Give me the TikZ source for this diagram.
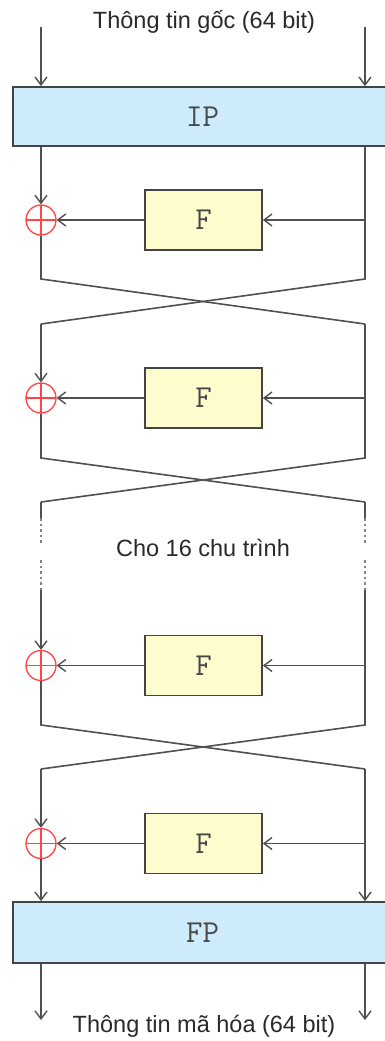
\documentclass[tikz,border=0pt]{standalone}
\usepackage{fontspec}
\setmainfont{Liberation Sans}
\usetikzlibrary{arrows.meta}
\definecolor{ln}{HTML}{505050}
\definecolor{bd}{HTML}{444444}
\definecolor{ipfill}{HTML}{CDEBFA}
\definecolor{ffill}{HTML}{FDFCCC}
\definecolor{xred}{HTML}{FF4545}
\definecolor{txt}{HTML}{2A2A2A}
\definecolor{mtxt}{HTML}{484848}
\begin{document}
\begin{tikzpicture}[x=1pt,y=-1pt,
  wire/.style={draw=ln, line width=1.6pt},
  arr/.style={wire, -{Straight Barb[length=8pt,width=12pt,line width=1.4pt]}},
  dotline/.style={draw=ln!70, line width=1.6pt, dash pattern=on 2.5pt off 3pt},
  permbox/.style={draw=bd, line width=1.7pt, fill=ipfill, minimum width=379pt, minimum height=59pt, inner sep=0pt, font=\fontsize{32}{34}\selectfont\ttfamily, text=mtxt},
  fbox/.style={draw=bd, line width=1.7pt, fill=ffill, minimum width=117pt, minimum height=60pt, inner sep=0pt, font=\fontsize{32}{34}\selectfont\ttfamily, text=mtxt},
  xor/.style={circle, draw=xred, line width=1.3pt, minimum size=30pt, inner sep=0pt,
    path picture={\draw[xred, line width=1.3pt] (path picture bounding box.north) -- (path picture bounding box.south) (path picture bounding box.west) -- (path picture bounding box.east);}},
  lbl/.style={font=\fontsize{23.5}{26}\selectfont, text=txt, inner sep=0pt}
]
\useasboundingbox[fill=white] (0,0) rectangle (385,1041);

% labels
\node[lbl] (top) at (204,22) {Thông tin gốc (64 bit)};
\node[lbl] (mid) at (203,548) {Cho 16 chu trình};
\node[lbl] (bot) at (204,1026) {Thông tin mã hóa (64 bit)};

% boxes
\node[permbox] (ip) at (202.5,116.5) {IP};
\node[permbox, minimum height=61pt] (fp) at (202.5,932.5) {FP};

\node[fbox] (f1) at (203.5,220) {F};
\node[fbox] (f2) at (203.5,398) {F};
\node[fbox] (f3) at (203.5,665.5) {F};
\node[fbox] (f4) at (203.5,843.5) {F};

\node[xor] (x1) at (41,220) {};
\node[xor] (x2) at (41,398) {};
\node[xor] (x3) at (41,665.5) {};
\node[xor] (x4) at (41,843.5) {};

% coordinates
\coordinate (inL) at (41,27);
\coordinate (inR) at (365,27);
\coordinate (outL) at (41,1020);
\coordinate (outR) at (365,1020);
\coordinate (r1) at (365,220);
\coordinate (r2) at (365,398);
\coordinate (r3) at (365,665.5);
\coordinate (r4) at (365,843.5);
\coordinate (c1tl) at (41,279);  \coordinate (c1tr) at (365,279);
\coordinate (c1bl) at (41,324);  \coordinate (c1br) at (365,324);
\coordinate (c2tl) at (41,458);  \coordinate (c2tr) at (365,458);
\coordinate (c2bl) at (41,502);  \coordinate (c2br) at (365,502);
\coordinate (c3tl) at (41,725);  \coordinate (c3tr) at (365,725);
\coordinate (c3bl) at (41,769);  \coordinate (c3br) at (365,769);
\coordinate (d1l) at (41,518);   \coordinate (d1r) at (365,518);
\coordinate (d2l) at (41,545);   \coordinate (d2r) at (365,545);
\coordinate (d3l) at (41,560);   \coordinate (d3r) at (365,560);
\coordinate (d4l) at (41,590);   \coordinate (d4r) at (365,590);

% input
\draw[arr] (inL) -- (inL |- ip.north);
\draw[arr] (inR) -- (inR |- ip.north);

% round 1
\draw[arr] (ip.south -| x1) -- (x1.north);
\draw[arr] (f1.west) -- (x1.east);
\draw[arr] (r1) -- (f1.east);
\draw[wire] (x1.south) -- (c1tl) -- (c1br);
\draw[wire] (ip.south -| c1tr) -- (c1tr) -- (c1bl);

% round 2
\draw[arr] (c1bl) -- (x2.north);
\draw[arr] (f2.west) -- (x2.east);
\draw[arr] (r2) -- (f2.east);
\draw[wire] (x2.south) -- (c2tl) -- (c2br);
\draw[wire] (c1br) -- (c2tr) -- (c2bl);

% skipped rounds
\draw[wire] (c2bl) -- (d1l);
\draw[wire] (c2br) -- (d1r);
\draw[dotline] (d1l) -- (d2l);
\draw[dotline] (d1r) -- (d2r);
\draw[dotline] (d3l) -- (d4l);
\draw[dotline] (d3r) -- (d4r);

% round 3
\draw[arr] (d4l) -- (x3.north);
\draw[arr] (f3.west) -- (x3.east);
\draw[arr] (r3) -- (f3.east);
\draw[wire] (x3.south) -- (c3tl) -- (c3br);
\draw[wire] (d4r) -- (c3tr) -- (c3bl);

% round 4
\draw[arr] (c3bl) -- (x4.north);
\draw[arr] (f4.west) -- (x4.east);
\draw[arr] (r4) -- (f4.east);
\draw[arr] (x4.south) -- (fp.north -| x4);
\draw[arr] (c3br) -- (fp.north -| c3br);

% output
\draw[arr] (fp.south -| outL) -- (outL);
\draw[arr] (fp.south -| outR) -- (outR);
\end{tikzpicture}
\end{document}
